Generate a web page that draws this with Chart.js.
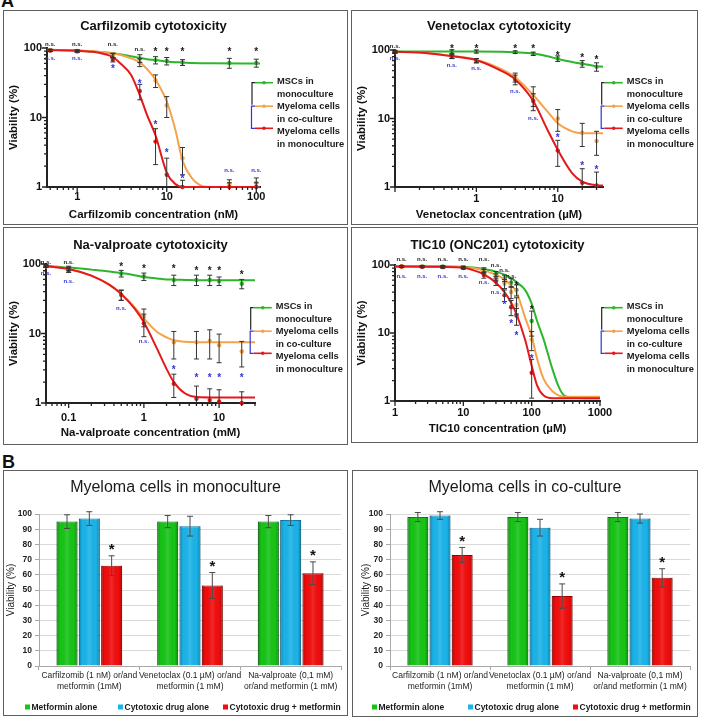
<!DOCTYPE html>
<html>
<head>
<meta charset="utf-8">
<script src="https://cdn.jsdelivr.net/npm/chart.js@4.4.1/dist/chart.umd.min.js"></script>
<style>
  body { margin: 0; background: #fff; }
  #pagina { position: relative; width: 701px; height: 722px; overflow: hidden; }
  canvas { position: absolute; }
  .caixa { position: absolute; box-sizing: border-box; border: 1.5px solid #5f5f5f; pointer-events: none; }
  .letra { position: absolute; font: bold 18px "Liberation Sans", Arial, sans-serif; line-height: 1; color: #111; }
</style>
</head>
<body>
<div id="pagina">
  <div class="letra" style="left:1px; top:-8px">A</div>
  <div class="letra" style="left:2px; top:453px">B</div>

  <canvas id="g_carf" width="345" height="215" style="left:3px; top:10px"></canvas>
  <div class="caixa" style="left:3px; top:10px; width:345px; height:215px"></div>

  <canvas id="g_vene" width="347" height="215" style="left:351px; top:10px"></canvas>
  <div class="caixa" style="left:351px; top:10px; width:347px; height:215px"></div>

  <canvas id="g_valp" width="345" height="218" style="left:3px; top:227px"></canvas>
  <div class="caixa" style="left:3px; top:227px; width:345px; height:218px"></div>

  <canvas id="g_tic" width="347" height="216" style="left:351px; top:227px"></canvas>
  <div class="caixa" style="left:351px; top:227px; width:347px; height:216px"></div>

  <canvas id="g_mono" width="345" height="246" style="left:3px; top:470px"></canvas>
  <div class="caixa" style="left:3px; top:470px; width:345px; height:246px"></div>

  <canvas id="g_cocult" width="346" height="247" style="left:352px; top:470px"></canvas>
  <div class="caixa" style="left:352px; top:470px; width:346px; height:247px"></div>
</div>

<script>
// ---------------- dados painel A ----------------
const rotulosY = [1, 10, 100];
const legendaA = [["MSCs in", "monoculture"], ["Myeloma cells", "in co-culture"], ["Myeloma cells", "in monoculture"]];

// Carfilzomib
const carfDoses = [0.5, 1, 2.5, 5, 7.5, 10, 15, 50, 100];
const carfMsc = [93, 91, 78, 71, 67, 65, 62, 61, 61];
const carfMscErr = [3, 3, 6, 9, 8, 8, 6, 10, 8];
const carfCo = [92, 90, 78, 62, 34, 15, 2.6, 1.12, 1.15];
const carfCoErr = [3, 3, 5, 8, 7, 5, 1.1, 0.15, 0.2];
const carfMono = [92, 90, 68, 24, 4.5, 1.5, 1.0, 1.0, 1.0];
const carfMonoErr = [3, 3, 5, 6, 2.4, 1.1, 0.25, 0.15, 0.15];
const carfAjusteX = [0.46, 1, 1.5, 2, 2.5, 3, 4, 5, 6, 7.5, 10, 12.5, 15, 19, 25, 30, 110];
const carfAjusteMsc = [94, 92, 89, 86, 84, 81, 76, 72, 69, 67, 64, 62.5, 62, 61, 60.5, 60.3, 60];
const carfAjusteCo = [94, 92, 90, 87, 84, 80, 71, 62, 50, 35, 17, 6.6, 2.4, 1.35, 1.03, 1.0, 1.0];
const carfAjusteMono = [93, 91, 88, 82, 74, 61, 41, 21, 11, 5.5, 1.6, 1.1, 1.0, 1.0, 1.0, 1.0, 1.0];
const carfRotulosX = [1, 10, 100];
const carfPretoTxt = ["n.s.", "n.s.", "n.s.", "n.s.", "*", "*", "*", "*", "*"];
const carfPretoY = [112, 112, 112, 94, 94, 94, 94, 94, 94];
const carfAzulTxt = ["n.s.", "n.s.", "*", "*", "*", "*", "*", "n.s.", "n.s."];
const carfAzulY = [71, 71, 54, 33, 8.4, 3.3, 1.4, 1.72, 1.72];

// Venetoclax
const veneDoses = [0.1, 0.5, 1, 3, 5, 10, 20, 30];
const veneMsc = [95, 95, 95, 93, 88, 75, 63, 57];
const veneMscErr = [4, 6, 5, 4, 5, 7, 7, 8];
const veneCo = [93, 80, 70, 40, 22, 10, 6.2, 4.7];
const veneCoErr = [3, 5, 5, 6, 7, 3.5, 2.3, 1.8];
const veneMono = [93, 80, 70, 37, 18, 3.4, 1.15, 1.05];
const veneMonoErr = [3, 5, 5, 6, 5, 1.4, 0.7, 0.6];
const veneAjusteX = [0.1, 0.2, 0.5, 1, 2, 3, 5, 7.5, 10, 15, 20, 30, 36];
const veneAjusteMsc = [95, 95, 95, 95, 94, 92.5, 89, 81, 74, 67, 63, 58, 57];
const veneAjusteCo = [94, 92, 82, 72, 53, 40, 22, 12.6, 8.5, 6.5, 6.1, 6.1, 6.1];
const veneAjusteMono = [94, 92, 81, 71, 50, 37, 18, 6.8, 3.5, 1.6, 1.2, 1.06, 1.05];
const veneRotulosX = [1, 10];
const venePretoTxt = ["n.s.", "*", "*", "*", "*", "*", "*", "*"];
const venePretoY = [112, 112, 112, 112, 112, 90, 83, 78];
const veneAzulTxt = ["n.s.", "n.s.", "n.s.", "n.s.", "n.s.", "*", "*", "*"];
const veneAzulY = [76, 59, 53, 25, 10, 5.6, 2.2, 1.9];

// Na-valproato
const valpDoses = [0.05, 0.1, 0.5, 1, 2.5, 5, 7.5, 10, 20];
const valpMsc = [94, 87, 73, 66, 59, 59, 59, 57, 52];
const valpMscErr = [4, 6, 8, 8, 10, 10, 10, 8, 8];
const valpCo = [93, 82, 36, 17.5, 7.5, 7.5, 7.8, 6.8, 5.5];
const valpCoErr = [3, 6, 6, 5, 3.2, 3.2, 3.5, 3, 2.2];
const valpMono = [93, 82, 36, 14, 1.9, 1.15, 1.1, 1.05, 1.0];
const valpMonoErr = [3, 6, 6, 5, 0.7, 0.6, 0.5, 0.5, 0.45];
const valpAjusteX = [0.05, 0.1, 0.2, 0.35, 0.5, 0.75, 1, 1.5, 2, 2.5, 3.5, 5, 10, 30];
const valpAjusteMsc = [94, 89, 83, 78, 74, 69, 65, 62, 60, 59.5, 59, 58.5, 58.5, 58.5];
const valpAjusteCo = [93, 85, 68, 50, 37, 24, 16.5, 10.5, 8.8, 8, 7.6, 7.5, 7.5, 7.5];
const valpAjusteMono = [93, 85, 68, 50, 37, 23, 14.5, 6, 3.1, 2.0, 1.38, 1.22, 1.2, 1.2];
const valpRotulosX = [0.1, 1, 10];
const valpPretoTxt = ["n.s.", "n.s.", "*", "*", "*", "*", "*", "*", "*"];
const valpPretoY = [106, 106, 97, 91.5, 91.5, 87, 87, 87, 76];
const valpAzulTxt = ["n.s.", "n.s.", "n.s.", "n.s.", "*", "*", "*", "*", "*"];
const valpAzulY = [73, 56, 23, 7.6, 3.2, 2.5, 2.5, 2.5, 2.5];

// TIC10
const ticDoses = [1.25, 2.5, 5, 10, 20, 30, 40, 50, 60, 100];
const ticMsc = [95, 95, 95, 93, 85, 74, 64, 55, 43, 15];
const ticMscErr = [3, 3, 3, 3, 6, 6, 7, 8, 8, 6];
const ticCo = [95, 95, 94, 92, 80, 67, 53, 40, 26, 8];
const ticCoErr = [3, 3, 3, 3, 6, 7, 8, 8, 7, 2.5];
const ticMono = [95, 94, 93, 90, 71, 57, 36, 24, 18, 2.6];
const ticMonoErr = [3, 3, 3, 3, 7, 7, 7, 6, 5, 1.5];
const ticAjusteX = [1, 5, 10, 15, 20, 30, 40, 50, 60, 80, 100, 120, 150, 200, 250, 300, 400, 1000];
const ticAjusteMsc = [95, 95, 94, 91, 87, 80, 72, 64, 56, 43, 27, 15, 8, 3, 1.6, 1.2, 1.12, 1.1];
const ticAjusteCo = [95, 95, 93, 89, 83, 72, 61, 50, 40, 17, 9, 4.2, 2.1, 1.4, 1.2, 1.15, 1.15, 1.15];
const ticAjusteMono = [95, 94, 91, 82, 73, 55, 40, 28, 19, 8, 3.3, 1.7, 1.2, 1.1, 1.1, 1.1, 1.1, 1.1];
const ticRotulosX = [1, 10, 100, 1000];
const ticPretoTxt = ["n.s.", "n.s.", "n.s.", "n.s.", "n.s.", "n.s.", "n.s.", "n.s.", "*", "*"];
const ticPretoY = [122, 122, 122, 122, 122, 100, 83, 67, 53, 24];
const ticAzulTxt = ["n.s.", "n.s.", "n.s.", "n.s.", "n.s.", "n.s.", "*", "*", "*", "*"];
const ticAzulY = [69, 69, 69, 69, 55, 39, 28, 15, 9.7, 4.5];

// ---------------- dados painel B ----------------
const gruposB = [
  ["Carfilzomib (1 nM) or/and", "metformin (1mM)"],
  ["Venetoclax (0.1 µM) or/and", "metformin (1 mM)"],
  ["Na-valproate (0,1 mM)", "or/and metformin (1 mM)"],
];
const legendaB = ["Metformin alone", "Cytotoxic drug alone", "Cytotoxic drug + metformin"];
const rotulosYB = [0, 10, 20, 30, 40, 50, 60, 70, 80, 90, 100];

const monoMetformina = [95, 95, 95];
const monoMetforminaErr = [4.5, 4, 4];
const monoDroga = [97, 92, 96];
const monoDrogaErr = [4.5, 6.5, 3.5];
const monoCombo = [66, 53, 61];
const monoComboErr = [6.5, 8.5, 7.5];
const monoMarcas = ["*", "*", "*"];

const coMetformina = [98, 98, 98];
const coMetforminaErr = [3, 3, 3];
const coDroga = [99, 91, 97];
const coDrogaErr = [2.5, 5.5, 3];
const coCombo = [73, 46, 58];
const coComboErr = [5, 8, 6];
const coMarcas = ["*", "*", "*"];

// ---------------- estilos ----------------
const fonte = '"Liberation Sans", Arial, sans-serif';
Chart.defaults.font.family = fonte;
const coresA = ["#2db52d", "#f5a24a", "#e3191c"]; // MSC, co-cultura, monocultura
const coresB = ["#16c516", "#1ab4ea", "#f20c0c"];
const bordasB = ["#0d7f0d", "#0b7fae", "#a30000"];
const azul = "#3434d6";

function ticksLog(min, max) {
  var lista = [];
  for (var k = Math.floor(Math.log10(min)); k <= Math.ceil(Math.log10(max)); k++) {
    for (var d = 1; d <= 9; d++) {
      var v = parseFloat((d * Math.pow(10, k)).toPrecision(6));
      if (v >= min * 0.999 && v <= max * 1.001) lista.push(v);
    }
  }
  return lista;
}

function ehPotencia(v) {
  var l = Math.log10(v);
  return Math.abs(l - Math.round(l)) < 1e-6;
}

function escreverMarca(ctx, txt, x, y, cor) {
  ctx.fillStyle = cor;
  ctx.textAlign = "center";
  ctx.textBaseline = "alphabetic";
  if (txt === "*") {
    ctx.font = "bold 10px " + fonte;
    ctx.fillText(txt, x, y + 5.5);
  } else {
    ctx.font = "bold 6px " + fonte;
    ctx.fillText(txt, x, y + 1.6);
  }
}

function pluginCurva(cfg) {
  return {
    id: "painelCurva",
    afterDatasetsDraw(chart) {
      const ctx = chart.ctx;
      const xs = chart.scales.x, ys = chart.scales.y, ca = chart.chartArea;
      ctx.save();
      ctx.strokeStyle = "#333";
      ctx.lineWidth = 1;
      cfg.series.forEach(function (s) {
        for (var i = 0; i < cfg.doses.length; i++) {
          var px = xs.getPixelForValue(cfg.doses[i]);
          var topo = ys.getPixelForValue(s.pontos[i] + s.erros[i]);
          var baixo = s.pontos[i] - s.erros[i] > 1 ? ys.getPixelForValue(s.pontos[i] - s.erros[i]) : ca.bottom;
          ctx.beginPath();
          ctx.moveTo(px, topo);
          ctx.lineTo(px, baixo);
          ctx.moveTo(px - 2.5, topo);
          ctx.lineTo(px + 2.5, topo);
          if (baixo < ca.bottom - 0.5) {
            ctx.moveTo(px - 2.5, baixo);
            ctx.lineTo(px + 2.5, baixo);
          }
          ctx.stroke();
        }
      });
      ctx.restore();
    },
    afterDraw(chart) {
      const ctx = chart.ctx;
      const xs = chart.scales.x, ys = chart.scales.y, ca = chart.chartArea;
      ctx.save();

      // titulo
      ctx.fillStyle = "#111";
      ctx.font = "bold 13px " + fonte;
      ctx.textAlign = "center";
      ctx.textBaseline = "middle";
      ctx.fillText(cfg.titulo, (ca.left + ca.right) / 2, cfg.tituloY);

      // marcas dos eixos
      ctx.strokeStyle = "#222";
      ctx.lineWidth = 1.3;
      ctx.beginPath();
      xs.ticks.forEach(function (t) {
        var px = xs.getPixelForValue(t.value);
        ctx.moveTo(px, ca.bottom);
        ctx.lineTo(px, ca.bottom + (ehPotencia(t.value) ? 5 : 3));
      });
      ys.ticks.forEach(function (t) {
        var py = ys.getPixelForValue(t.value);
        ctx.moveTo(ca.left, py);
        ctx.lineTo(ca.left - (ehPotencia(t.value) ? 5 : 3), py);
      });
      ctx.stroke();

      // significancia
      for (var i = 0; i < cfg.doses.length; i++) {
        var px = xs.getPixelForValue(cfg.doses[i]);
        escreverMarca(ctx, cfg.pretoTxt[i], px, ys.getPixelForValue(cfg.pretoY[i]), "#1a1a1a");
        escreverMarca(ctx, cfg.azulTxt[i], px, ys.getPixelForValue(cfg.azulY[i]), azul);
      }

      // legenda
      var bx = cfg.legenda.x, gy = cfg.legenda.y;
      var linhasY = [gy, gy + 23.5, gy + 45.6];
      ctx.lineWidth = 1.2;
      ctx.strokeStyle = "#222";
      ctx.beginPath();
      ctx.moveTo(bx + 3, linhasY[0]);
      ctx.lineTo(bx, linhasY[0]);
      ctx.lineTo(bx, linhasY[1] - 1.5);
      ctx.stroke();
      ctx.strokeStyle = azul;
      ctx.beginPath();
      ctx.moveTo(bx + 3, linhasY[1]);
      ctx.lineTo(bx - 0.5, linhasY[1]);
      ctx.lineTo(bx - 0.5, linhasY[2]);
      ctx.lineTo(bx + 3, linhasY[2]);
      ctx.stroke();
      for (var s = 0; s < 3; s++) {
        ctx.strokeStyle = coresA[s];
        ctx.fillStyle = coresA[s];
        ctx.lineWidth = 1.6;
        ctx.beginPath();
        ctx.moveTo(bx + 3, linhasY[s]);
        ctx.lineTo(bx + 21, linhasY[s]);
        ctx.stroke();
        ctx.beginPath();
        ctx.arc(bx + 12, linhasY[s], 1.8, 0, Math.PI * 2);
        ctx.fill();
        ctx.fillStyle = "#1a1a1a";
        ctx.font = "bold 9.3px " + fonte;
        ctx.textAlign = "left";
        ctx.textBaseline = "middle";
        ctx.fillText(legendaA[s][0], bx + 25, gy - 1 + s * 25);
        ctx.fillText(legendaA[s][1], bx + 25, gy + 11.6 + s * 25);
      }
      ctx.restore();
    },
  };
}

function criarCurva(idCanvas, cfg) {
  var canvas = document.getElementById(idCanvas);
  var W = canvas.width, H = canvas.height;
  var ds = [];
  // curvas ajustadas (monocultura por cima)
  for (var s = 2; s >= 0; s--) {
    ds.push({
      data: cfg.ajusteX.map(function (x, i) { return { x: x, y: cfg.ajustes[s][i] }; }),
      borderColor: coresA[s],
      borderWidth: 2,
      pointRadius: 0,
      cubicInterpolationMode: "monotone",
      clip: false,
    });
  }
  for (var s2 = 2; s2 >= 0; s2--) {
    ds.push({
      data: cfg.doses.map(function (x, i) { return { x: x, y: cfg.series[s2].pontos[i] }; }),
      showLine: false,
      pointRadius: 2.2,
      pointBorderWidth: 0,
      pointBackgroundColor: coresA[s2],
      clip: false,
    });
  }

  new Chart(canvas, {
    type: "line",
    data: { datasets: ds },
    options: {
      responsive: false,
      animation: false,
      layout: { padding: { left: 4, top: cfg.area.top, right: W - cfg.area.right, bottom: 2 } },
      plugins: { legend: { display: false }, tooltip: { enabled: false } },
      scales: {
        x: {
          type: "logarithmic",
          min: cfg.xMin,
          max: cfg.xMax,
          afterBuildTicks: function (escala) {
            escala.ticks = ticksLog(cfg.xMin, cfg.xMax).map(function (v) { return { value: v }; });
          },
          afterFit: function (escala) { escala.height = H - 2 - cfg.area.bottom; },
          grid: { display: false, drawTicks: false },
          border: { display: true, color: "#222", width: 2 },
          ticks: {
            autoSkip: false,
            maxRotation: 0,
            padding: cfg.tickPad,
            color: "#111",
            font: { size: 11, weight: "bold" },
            callback: function (v) { return cfg.rotulosX.indexOf(v) >= 0 ? String(v) : ""; },
          },
          title: {
            display: true,
            text: cfg.eixoX,
            color: "#111",
            font: { size: 11.5, weight: "bold" },
            padding: { top: 0, bottom: cfg.tituloPad },
          },
        },
        y: {
          type: "logarithmic",
          min: 1,
          max: 100,
          afterBuildTicks: function (escala) {
            escala.ticks = ticksLog(1, 100).map(function (v) { return { value: v }; });
          },
          afterFit: function (escala) { escala.width = cfg.area.left - 4; },
          grid: { display: false, drawTicks: false },
          border: { display: true, color: "#222", width: 2 },
          ticks: {
            autoSkip: false,
            padding: 5,
            color: "#111",
            font: { size: 11, weight: "bold" },
            callback: function (v) { return rotulosY.indexOf(v) >= 0 ? String(v) : ""; },
          },
          title: {
            display: true,
            text: "Viability (%)",
            color: "#111",
            font: { size: 11.5, weight: "bold" },
            padding: { top: 0, bottom: 0 },
          },
        },
      },
    },
    plugins: [pluginCurva(cfg)],
  });
}

function pluginBarras(cfg) {
  return {
    id: "painelBarras",
    afterDatasetsDraw(chart) {
      const ctx = chart.ctx;
      const ys = chart.scales.y;
      ctx.save();
      // brilho das barras
      chart.data.datasets.forEach(function (d, di) {
        chart.getDatasetMeta(di).data.forEach(function (b) {
          var esq = b.x - b.width / 2;
          var g = ctx.createLinearGradient(esq, 0, esq + b.width, 0);
          g.addColorStop(0, "rgba(0,0,0,0.28)");
          g.addColorStop(0.18, "rgba(0,0,0,0)");
          g.addColorStop(0.5, "rgba(255,255,255,0.12)");
          g.addColorStop(0.82, "rgba(0,0,0,0)");
          g.addColorStop(1, "rgba(0,0,0,0.28)");
          ctx.fillStyle = g;
          ctx.fillRect(esq, b.y, b.width, b.base - b.y);
        });
      });
      // barras de erro
      ctx.strokeStyle = "#4a4a4a";
      ctx.lineWidth = 1;
      chart.data.datasets.forEach(function (d, di) {
        chart.getDatasetMeta(di).data.forEach(function (b, i) {
          var topo = ys.getPixelForValue(d.data[i] + d.erros[i]);
          var baixo = ys.getPixelForValue(d.data[i] - d.erros[i]);
          ctx.beginPath();
          ctx.moveTo(b.x, topo);
          ctx.lineTo(b.x, baixo);
          ctx.moveTo(b.x - 3, topo);
          ctx.lineTo(b.x + 3, topo);
          ctx.moveTo(b.x - 3, baixo);
          ctx.lineTo(b.x + 3, baixo);
          ctx.stroke();
        });
      });
      // asteriscos sobre a combinacao
      var dsCombo = chart.data.datasets[2];
      ctx.fillStyle = "#111";
      ctx.font = "bold 15px " + fonte;
      ctx.textAlign = "center";
      ctx.textBaseline = "alphabetic";
      chart.getDatasetMeta(2).data.forEach(function (b, i) {
        var topo = ys.getPixelForValue(dsCombo.data[i] + dsCombo.erros[i]);
        ctx.fillText(cfg.marcas[i], b.x, topo - 1.5);
      });
      ctx.restore();
    },
    afterDraw(chart) {
      const ctx = chart.ctx;
      ctx.save();
      ctx.fillStyle = "#1a1a1a";
      ctx.font = "16px " + fonte;
      ctx.textAlign = "center";
      ctx.textBaseline = "middle";
      ctx.fillText(cfg.titulo, chart.width / 2, 18);
      // legenda
      ctx.font = "bold 8.5px " + fonte;
      ctx.textAlign = "left";
      for (var i = 0; i < 3; i++) {
        var lx = cfg.legendaX[i];
        ctx.fillStyle = coresB[i];
        ctx.fillRect(lx, 234.5, 5, 5);
        ctx.fillStyle = "#1a1a1a";
        ctx.fillText(legendaB[i], lx + 6.5, 237.5);
      }
      ctx.restore();
    },
  };
}

function criarBarras(idCanvas, cfg) {
  var canvas = document.getElementById(idCanvas);
  var W = canvas.width, H = canvas.height;
  var valores = [cfg.metformina, cfg.droga, cfg.combo];
  var erros = [cfg.metforminaErr, cfg.drogaErr, cfg.comboErr];
  new Chart(canvas, {
    type: "bar",
    data: {
      labels: gruposB,
      datasets: [0, 1, 2].map(function (i) {
        return {
          label: legendaB[i],
          data: valores[i],
          erros: erros[i],
          backgroundColor: coresB[i],
          borderColor: bordasB[i],
          borderWidth: 1,
          borderSkipped: "bottom",
          categoryPercentage: 0.665,
          barPercentage: 0.94,
        };
      }),
    },
    options: {
      responsive: false,
      animation: false,
      layout: { padding: { left: cfg.padEsq, top: 44, right: W - cfg.area.right, bottom: 0 } },
      plugins: { legend: { display: false }, tooltip: { enabled: false } },
      scales: {
        x: {
          afterFit: function (escala) { escala.height = H - 196; },
          grid: { drawOnChartArea: false, drawTicks: true, tickLength: 4, color: "#a8a8a8", offset: true },
          border: { color: "#a8a8a8" },
          ticks: {
            autoSkip: false,
            maxRotation: 0,
            padding: 1,
            color: "#222",
            font: { size: 8.5, lineHeight: 1.2 },
          },
        },
        y: {
          min: 0,
          max: 100,
          afterBuildTicks: function (escala) {
            escala.ticks = rotulosYB.map(function (v) { return { value: v }; });
          },
          afterFit: function (escala) { escala.width = cfg.area.left - cfg.padEsq; },
          grid: { color: "#d9d9d9", tickColor: "#a8a8a8", tickLength: 4 },
          border: { color: "#a8a8a8" },
          ticks: { padding: 3, color: "#222", font: { size: 8.5, weight: "bold" } },
          title: {
            display: true,
            text: "Viability (%)",
            color: "#222",
            font: { size: 10 },
            padding: { top: 0, bottom: 0 },
          },
        },
      },
    },
    plugins: [pluginBarras(cfg)],
  });
}

// ---------------- montagem ----------------
criarCurva("g_carf", {
  titulo: "Carfilzomib cytotoxicity", tituloY: 16,
  eixoX: "Carfilzomib concentration (nM)",
  xMin: 0.46, xMax: 110, rotulosX: carfRotulosX,
  doses: carfDoses,
  series: [
    { pontos: carfMsc, erros: carfMscErr },
    { pontos: carfCo, erros: carfCoErr },
    { pontos: carfMono, erros: carfMonoErr },
  ],
  ajusteX: carfAjusteX, ajustes: [carfAjusteMsc, carfAjusteCo, carfAjusteMono],
  pretoTxt: carfPretoTxt, pretoY: carfPretoY, azulTxt: carfAzulTxt, azulY: carfAzulY,
  area: { left: 44, right: 257, top: 38, bottom: 177 },
  tickPad: 3.5, tituloPad: 1,
  legenda: { x: 249, y: 72.7 },
});

criarCurva("g_vene", {
  titulo: "Venetoclax cytotoxicity", tituloY: 16,
  eixoX: "Venetoclax concentration (µM)",
  xMin: 0.1, xMax: 36, rotulosX: veneRotulosX,
  doses: veneDoses,
  series: [
    { pontos: veneMsc, erros: veneMscErr },
    { pontos: veneCo, erros: veneCoErr },
    { pontos: veneMono, erros: veneMonoErr },
  ],
  ajusteX: veneAjusteX, ajustes: [veneAjusteMsc, veneAjusteCo, veneAjusteMono],
  pretoTxt: venePretoTxt, pretoY: venePretoY, azulTxt: veneAzulTxt, azulY: veneAzulY,
  area: { left: 44, right: 252, top: 40, bottom: 177 },
  tickPad: 5, tituloPad: 1,
  legenda: { x: 250.7, y: 72.7 },
});

criarCurva("g_valp", {
  titulo: "Na-valproate cytotoxicity", tituloY: 18,
  eixoX: "Na-valproate concentration (mM)",
  xMin: 0.05, xMax: 30, rotulosX: valpRotulosX,
  doses: valpDoses,
  series: [
    { pontos: valpMsc, erros: valpMscErr },
    { pontos: valpCo, erros: valpCoErr },
    { pontos: valpMono, erros: valpMonoErr },
  ],
  ajusteX: valpAjusteX, ajustes: [valpAjusteMsc, valpAjusteCo, valpAjusteMono],
  pretoTxt: valpPretoTxt, pretoY: valpPretoY, azulTxt: valpAzulTxt, azulY: valpAzulY,
  area: { left: 43, right: 252, top: 37, bottom: 176 },
  tickPad: 8, tituloPad: 3,
  legenda: { x: 247.7, y: 80.7 },
});

criarCurva("g_tic", {
  titulo: "TIC10 (ONC201) cytotoxicity", tituloY: 18,
  eixoX: "TIC10 concentration (µM)",
  xMin: 1, xMax: 1000, rotulosX: ticRotulosX,
  doses: ticDoses,
  series: [
    { pontos: ticMsc, erros: ticMscErr },
    { pontos: ticCo, erros: ticCoErr },
    { pontos: ticMono, erros: ticMonoErr },
  ],
  ajusteX: ticAjusteX, ajustes: [ticAjusteMsc, ticAjusteCo, ticAjusteMono],
  pretoTxt: ticPretoTxt, pretoY: ticPretoY, azulTxt: ticAzulTxt, azulY: ticAzulY,
  area: { left: 44, right: 249, top: 38, bottom: 174 },
  tickPad: 5, tituloPad: 5,
  legenda: { x: 250.7, y: 80.7 },
});

criarBarras("g_mono", {
  titulo: "Myeloma cells in monoculture",
  metformina: monoMetformina, metforminaErr: monoMetforminaErr,
  droga: monoDroga, drogaErr: monoDrogaErr,
  combo: monoCombo, comboErr: monoComboErr,
  marcas: monoMarcas,
  padEsq: 2, area: { left: 36, right: 338 },
  legendaX: [22, 115, 220],
});

criarBarras("g_cocult", {
  titulo: "Myeloma cells in co-culture",
  metformina: coMetformina, metforminaErr: coMetforminaErr,
  droga: coDroga, drogaErr: coDrogaErr,
  combo: coCombo, comboErr: coComboErr,
  marcas: coMarcas,
  padEsq: 8, area: { left: 38, right: 338 },
  legendaX: [20, 116, 221],
});
</script>
</body>
</html>
